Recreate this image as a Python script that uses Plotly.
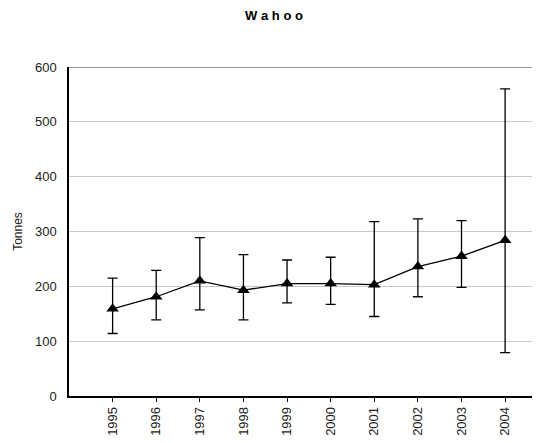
import plotly.graph_objects as go

years = [1995, 1996, 1997, 1998, 1999, 2000, 2001, 2002, 2003, 2004]
tonnes = [159, 181, 210, 193, 205, 205, 203, 236, 255, 284]
upper = [215, 229, 289, 258, 248, 253, 318, 323, 320, 560]
lower = [114, 139, 157, 139, 170, 167, 145, 181, 198, 79]
tick_labels = [str(y) for y in years]

err_plus = [u - v for u, v in zip(upper, tonnes)]
err_minus = [v - l for v, l in zip(tonnes, lower)]

font_family = "Liberation Sans, Arial, sans-serif"

fig = go.Figure()
fig.add_trace(go.Scatter(
    x=years, y=tonnes, mode="lines+markers",
    line=dict(color="black", width=1.3),
    marker=dict(symbol="triangle-up", size=11, color="black"),
    error_y=dict(type="data", symmetric=False, array=err_plus, arrayminus=err_minus,
                 color="black", thickness=1.3, width=5),
    showlegend=False,
))

fig.add_shape(type="line", xref="paper", yref="y", x0=0, x1=1, y0=600, y1=600,
              line=dict(color="#999999", width=2))

fig.update_layout(
    width=532, height=435,
    margin=dict(l=61, r=0, t=59, b=47),
    paper_bgcolor="white", plot_bgcolor="white",
    font=dict(family=font_family, size=12, color="#222222"),
    title=dict(text="<b>W a h o o</b>", x=0.5, xanchor="center", y=1 - 7 / 435,
               yanchor="middle", font=dict(size=13, color="black")),
    xaxis=dict(range=[1994, 2004.8], tickvals=years, ticktext=tick_labels,
               tickangle=-90, ticks="outside", ticklen=4, tickcolor="black",
               showline=True, linecolor="black", linewidth=1.5, showgrid=False,
               zeroline=False, tickfont=dict(size=13, color="#222222")),
    yaxis=dict(range=[0, 600], tickvals=[0, 100, 200, 300, 400, 500, 600],
               showline=True, linecolor="black", linewidth=1.5, showgrid=True,
               gridcolor="#c8c8c8", gridwidth=1, zeroline=False, ticks="",
               ticklabelstandoff=8,
               title=dict(text="Tonnes", standoff=10, font=dict(size=12, color="#222222")),
               tickfont=dict(size=13, color="#222222")),
)

fig.write_html("out.html")
